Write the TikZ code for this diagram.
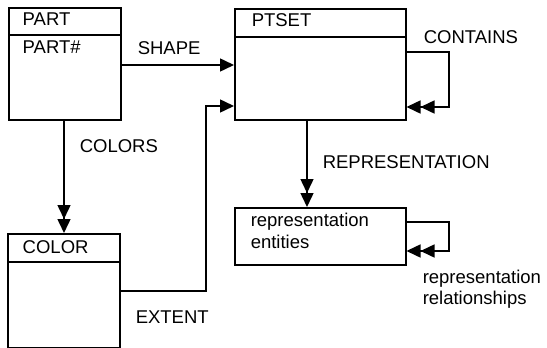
\documentclass[tikz,border=0pt]{standalone}
\usepackage{fontspec}
\setmainfont{Liberation Sans}
\usetikzlibrary{arrows.meta}
\begin{document}
\begin{tikzpicture}[x=1pt,y=-1pt,
  line width=1.5pt,
  ent/.style={draw, rectangle, anchor=north west, inner sep=0pt, line width=1.5pt},
  lbl/.style={anchor=base west, inner sep=0pt, font=\fontsize{18.5}{21}\selectfont},
  one/.style={-{Triangle[length=14pt,width=13pt]}},
  two/.style={-{Triangle[length=14pt,width=13pt,sep=0pt] Triangle[length=14pt,width=13pt]}}]
\useasboundingbox (0,0) rectangle (547,348);
% entity boxes
\node[ent, minimum width=112pt, minimum height=112pt] (part) at (8,7) {};
\node[ent, minimum width=171pt, minimum height=111pt] (ptset) at (234,8) {};
\node[ent, minimum width=112pt, minimum height=114pt] (color) at (7,233) {};
\node[ent, minimum width=171pt, minimum height=57pt] (rep) at (234,207) {};
% header dividers
\draw (part.west |- 0,35) -- (part.east |- 0,35);
\draw (ptset.west |- 0,37) -- (ptset.east |- 0,37);
\draw (color.west |- 0,262) -- (color.east |- 0,262);
% box texts
\node[lbl] (tpart) at (22,25) {PART};
\node[lbl] (tpartno) at (22,53) {PART\#};
\node[lbl] (tptset) at (251,27) {PTSET};
\node[lbl] (tcolor) at (22,253) {COLOR};
\node[lbl] (trep1) at (250,226) {representation};
\node[lbl] (trep2) at (250,248) {entities};
% connector labels
\node[lbl] (lshape) at (137,54) {SHAPE};
\node[lbl] (lcontains) at (423,43) {CONTAINS};
\node[lbl] (lcolors) at (79,152) {COLORS};
\node[lbl] (lrep) at (322,168) {REPRESENTATION};
\node[lbl] (lextent) at (135,323) {EXTENT};
\node[lbl] (lrr1) at (422,283) {representation};
\node[lbl] (lrr2) at (422,304) {relationships};
% connectors
\draw[one] (part.east |- 0,65) -- (ptset.west |- 0,65);
\coordinate (extbend) at (206,106);
\draw[one] (color.east |- 0,291) -| (extbend) -- (ptset.west |- extbend);
\draw[two] (part.south -| 64,0) -- (color.north -| 64,0);
\draw[two] (ptset.south -| 307,0) -- (rep.north -| 307,0);
\coordinate (cloop) at (449,52);
\draw[two] (ptset.east |- cloop) -- (cloop) |- (ptset.east |- 0,107);
\coordinate (rloop) at (449,222);
\draw[two] (rep.east |- rloop) -- (rloop) |- (rep.east |- 0,251);
\end{tikzpicture}
\end{document}
